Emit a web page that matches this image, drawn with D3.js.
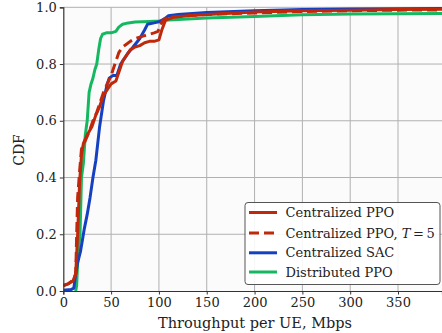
<!DOCTYPE html>
<html>
<head>
<meta charset="utf-8">
<script src="https://cdn.jsdelivr.net/npm/d3@7"></script>
<style>
  html, body { margin: 0; padding: 0; background: #fff; }
  svg { display: block; }
  text { font-family: "DejaVu Serif", serif; fill: #222; }
</style>
</head>
<body>
<svg id="chart" width="442" height="333"></svg>
<script>
// ---- data ----
const xTicks = [0, 50, 100, 150, 200, 250, 300, 350];
const yTicks = [0.0, 0.2, 0.4, 0.6, 0.8, 1.0];
const seriesNames = ["Centralized PPO", "Centralized PPO, T = 5", "Centralized SAC", "Distributed PPO"];

const ppoX = [0, 5, 10, 13, 15, 17, 19, 21, 25, 30, 34, 38, 42, 46, 50, 55, 58, 62, 66, 70, 75, 80, 85, 90, 95, 100, 103, 107, 115, 130, 150, 200, 250, 300, 350, 400];
const ppoY = [0.02, 0.025, 0.035, 0.06, 0.2, 0.38, 0.48, 0.52, 0.55, 0.58, 0.62, 0.65, 0.69, 0.71, 0.73, 0.74, 0.77, 0.81, 0.83, 0.85, 0.86, 0.865, 0.875, 0.88, 0.88, 0.885, 0.92, 0.955, 0.965, 0.97, 0.975, 0.983, 0.988, 0.99, 0.992, 0.993];

const ppoT5X = [0, 5, 10, 13, 14, 15, 17, 19, 23, 27, 31, 35, 38, 42, 46, 50, 54, 58, 62, 66, 70, 75, 80, 85, 90, 95, 99, 104, 110, 130, 150, 200, 250, 300, 350, 400];
const ppoT5Y = [0.018, 0.025, 0.038, 0.06, 0.2, 0.33, 0.42, 0.5, 0.53, 0.56, 0.6, 0.63, 0.66, 0.7, 0.73, 0.76, 0.8, 0.84, 0.86, 0.87, 0.88, 0.89, 0.895, 0.9, 0.905, 0.91, 0.915, 0.955, 0.965, 0.97, 0.975, 0.98, 0.985, 0.988, 0.99, 0.991];

const sacX = [0, 8, 11, 13, 15, 18, 20, 22, 25, 28, 31, 34, 38, 42, 46, 48, 52, 56, 60, 64, 68, 73, 80, 85, 88, 95, 101, 106, 110, 120, 150, 200, 250, 300, 400];
const sacY = [0.003, 0.005, 0.01, 0.06, 0.1, 0.14, 0.18, 0.22, 0.27, 0.33, 0.4, 0.46, 0.58, 0.67, 0.73, 0.75, 0.76, 0.76, 0.8, 0.82, 0.84, 0.86, 0.89, 0.92, 0.94, 0.945, 0.95, 0.96, 0.97, 0.975, 0.982, 0.988, 0.992, 0.994, 0.996];

const dppoX = [13, 14, 15, 16, 17.5, 19, 21, 23, 25, 27, 29, 31, 33, 35, 37, 39, 41, 45, 50, 55, 58, 62, 68, 75, 90, 100, 110, 150, 200, 250, 300, 400];
const dppoY = [0, 0.02, 0.1, 0.15, 0.2, 0.4, 0.45, 0.55, 0.6, 0.7, 0.73, 0.75, 0.78, 0.8, 0.85, 0.89, 0.905, 0.91, 0.91, 0.915, 0.93, 0.94, 0.945, 0.948, 0.95, 0.952, 0.955, 0.962, 0.968, 0.974, 0.976, 0.978];

// ---- layout ----
const svg = d3.select("#chart");
const mLeft = 63.3, mRight = 442, mTop = 7.3, mBottom = 291;

const x = d3.scaleLinear().domain([0, 396]).range([mLeft, mRight]);
const y = d3.scaleLinear().domain([0, 1]).range([mBottom, mTop]);

const colors = ["#c0280c", "#c0280c", "#1540c0", "#15b860"];
const dashes = [null, "10,5", null, null];

const series = [
  { name: seriesNames[0], xs: ppoX, ys: ppoY },
  { name: seriesNames[1], xs: ppoT5X, ys: ppoT5Y },
  { name: seriesNames[2], xs: sacX, ys: sacY },
  { name: seriesNames[3], xs: dppoX, ys: dppoY }
];

// plot background
svg.append("rect").attr("x", mLeft).attr("y", mTop)
  .attr("width", mRight - mLeft).attr("height", mBottom - mTop)
  .attr("fill", "#fbfbfb");

// grid
const grid = svg.append("g");
grid.selectAll("line.gx").data(xTicks.filter(d => d > 0)).enter().append("line")
  .attr("x1", d => x(d)).attr("x2", d => x(d))
  .attr("y1", mTop).attr("y2", mBottom)
  .attr("stroke", "#b0b0b0").attr("stroke-width", 1);
grid.selectAll("line.gy").data(yTicks.filter(d => d > 0)).enter().append("line")
  .attr("x1", mLeft).attr("x2", mRight)
  .attr("y1", d => y(d)).attr("y2", d => y(d))
  .attr("stroke", "#b0b0b0").attr("stroke-width", 1);

// clip
svg.append("clipPath").attr("id", "clip").append("rect")
  .attr("x", mLeft).attr("y", mTop - 2).attr("width", mRight - mLeft).attr("height", mBottom - mTop + 4);

const line = d3.line().x(d => x(d[0])).y(d => y(d[1]));
const lines = svg.append("g").attr("clip-path", "url(#clip)");
const order = [3, 2, 0, 1];
order.forEach(i => {
  const s = series[i];
  const pts = s.xs.map((v, k) => [v, s.ys[k]]);
  lines.append("path").datum(pts)
    .attr("d", line)
    .attr("fill", "none")
    .attr("stroke", colors[i])
    .attr("stroke-width", 3)
    .attr("stroke-linejoin", "round")
    .attr("stroke-dasharray", dashes[i]);
});

// axes
const xAxis = d3.axisBottom(x).tickValues(xTicks).tickSize(3.5).tickPadding(3).tickFormat(d3.format("d"));
const yAxis = d3.axisLeft(y).tickValues(yTicks).tickSize(3.5).tickPadding(3).tickFormat(d3.format(".1f"));

const gx = svg.append("g").attr("transform", `translate(0,${mBottom})`).call(xAxis);
const gy = svg.append("g").attr("transform", `translate(${mLeft},0)`).call(yAxis);
[gx, gy].forEach(g => {
  g.select(".domain").attr("stroke", "#333").attr("stroke-width", 1.2);
  g.selectAll(".tick line").attr("stroke", "#333");
  g.selectAll(".tick text").style("font-family", "DejaVu Serif, serif").style("font-size", "13px").attr("fill", "#222");
});

// axis labels
svg.append("text").attr("x", 255).attr("y", 328).attr("text-anchor", "middle")
  .style("font-size", "14.5px").text("Throughput per UE, Mbps");
svg.append("text").attr("transform", "translate(24,150) rotate(-90)").attr("text-anchor", "middle")
  .style("font-size", "14px").text("CDF");

// legend
const lg = svg.append("g");
lg.append("rect").attr("x", 245).attr("y", 202.5).attr("width", 195).attr("height", 82)
  .attr("rx", 3).attr("fill", "#fff").attr("fill-opacity", 0.9)
  .attr("stroke", "#555").attr("stroke-width", 1);
const rowY = [212.5, 233, 252.8, 272];
series.forEach((s, i) => {
  lg.append("line").attr("x1", 249).attr("x2", 277)
    .attr("y1", rowY[i]).attr("y2", rowY[i])
    .attr("stroke", colors[i]).attr("stroke-width", 3)
    .attr("stroke-dasharray", dashes[i]);
  const t = lg.append("text").attr("x", 285.5).attr("y", rowY[i] + 4.6).style("font-size", "13px");
  if (i === 1) {
    t.append("tspan").text("Centralized PPO, ");
    t.append("tspan").style("font-style", "italic").text("T");
    t.append("tspan").text("\u2009=\u20095");
  } else {
    t.text(s.name);
  }
});
</script>
</body>
</html>
